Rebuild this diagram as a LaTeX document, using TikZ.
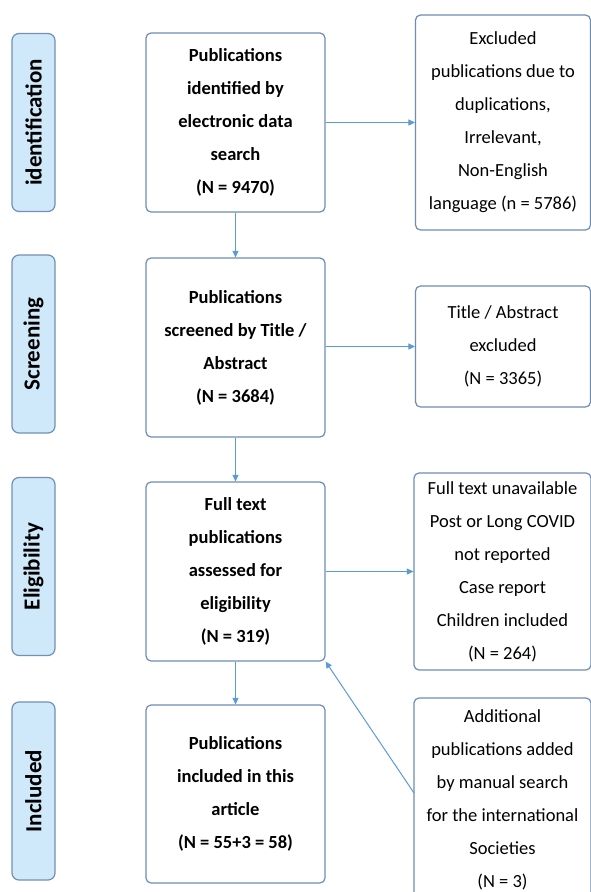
\documentclass[tikz,border=0pt]{standalone}
\usepackage{fontspec}
\setmainfont{Carlito}
\usetikzlibrary{arrows.meta}
\definecolor{lblfill}{HTML}{CFE9FA}
\definecolor{lbldraw}{HTML}{7390B4}
\definecolor{boxdraw}{HTML}{6F8DB3}
\definecolor{arr}{HTML}{5B9BD5}
\tikzset{
  mainbox/.style={draw=boxdraw, line width=1.2pt, rounded corners=5pt, fill=white,
    minimum width=179pt, minimum height=179pt, align=center, inner sep=0pt,
    font=\bfseries\fontsize{18.5}{33}\selectfont},
  sidebox/.style={draw=boxdraw, line width=1.2pt, rounded corners=5pt, fill=white,
    minimum width=175pt, align=center, inner sep=0pt,
    font=\fontsize{18.5}{33}\selectfont},
  lbl/.style={draw=lbldraw, line width=1.2pt, rounded corners=7pt, fill=lblfill,
    rotate=90, minimum width=178pt, minimum height=43pt, inner sep=0pt,
    font=\bfseries\fontsize{23}{26}\selectfont},
  conn/.style={draw=arr, line width=1pt, -{Triangle[length=6.5pt,width=6pt]}}
}
\begin{document}
\begin{tikzpicture}[x=1pt,y=-1pt]
\clip (0,0) rectangle (591,892);
\fill[white] (0,0) rectangle (591,892);
% phase labels
\node[lbl] (l1) at (33.5,122.5) {identification};
\node[lbl] (l2) at (33.5,344) {Screening};
\node[lbl] (l3) at (33.5,566.5) {Eligibility};
\node[lbl] (l4) at (33.5,791) {Included};
% main boxes
\node[mainbox] (b1) at (235.5,122.5) {Publications\\identified by\\electronic data\\search\\(N = 9470)};
\node[mainbox] (b2) at (235.5,347.5) {Publications\\screened by Title /\\Abstract\\(N = 3684)};
\node[mainbox] (b3) at (235.5,571.5) {Full text\\publications\\assessed for\\eligibility\\(N = 319)};
\node[mainbox, minimum height=178pt] (b4) at (235.5,794) {Publications\\included in this\\article\\(N = 55+3 = 58)};
% side boxes
\node[sidebox, minimum height=215pt] (r1) at (503,122.5) {Excluded\\publications due to\\duplications,\\Irrelevant,\\Non-English\\language (n = 5786)};
\node[sidebox, minimum height=121pt] (r2) at (503,346.5) {Title / Abstract\\excluded\\(N = 3365)};
\node[sidebox, minimum width=177pt, minimum height=197pt] (r3) at (502.5,571.5) {Full text unavailable\\Post or Long COVID\\not reported\\Case report\\Children included\\(N = 264)};
\node[sidebox, minimum width=177pt, minimum height=210pt] (r4) at (502.5,803) {};
\node[font=\fontsize{18.5}{33}\selectfont, align=center] (r4t) at (502.5,800) {Additional\\publications added\\by manual search\\for the international\\Societies\\(N = 3)};
\coordinate (r4w) at (414,793);
% connectors
\draw[conn] (b1.south) -- (b2.north);
\draw[conn] (b2.south) -- (b3.north);
\draw[conn] (b3.south) -- (b4.north);
\draw[conn] (b1.east) -- (r1.west);
\draw[conn] (b2.east |- r2.west) -- (r2.west);
\draw[conn] (b3.east) -- (r3.west);
\draw[conn] (r4w) -- (b3.south east);
\end{tikzpicture}
\end{document}
